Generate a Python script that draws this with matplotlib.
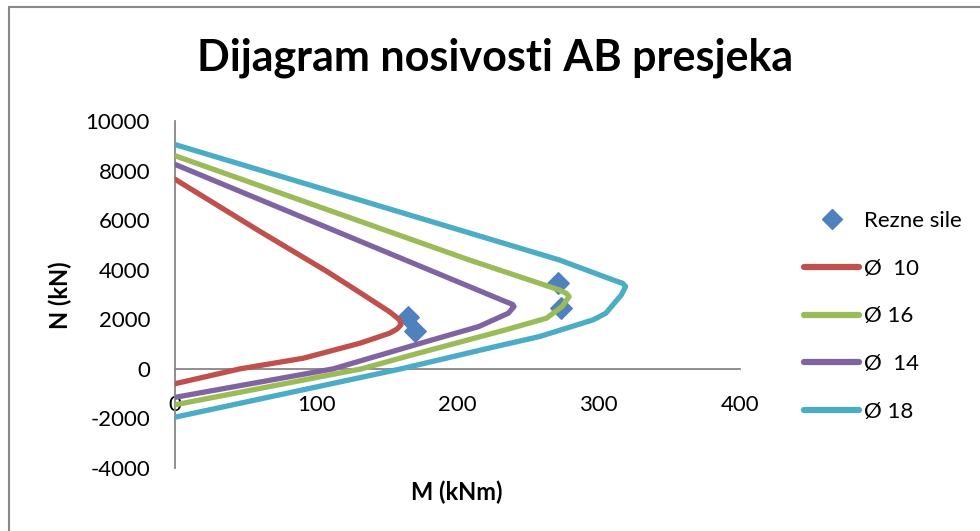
import matplotlib
matplotlib.use("Agg")
import matplotlib.pyplot as plt
from matplotlib.patches import Rectangle
from matplotlib.lines import Line2D

plt.rcParams['font.family'] = ['Lato', 'DejaVu Sans']
plt.rcParams['axes.unicode_minus'] = False

# Rezne sile (design forces)
sile_M = [165, 170, 271, 273]
sile_N = [2110, 1530, 3480, 2470]

# interaction curves (M in kNm, N in kN)
m_10 = [0, 60, 107, 128, 152, 159, 160, 157, 152, 138, 131, 91, 46, 0]
n_10 = [7650, 5550, 3950, 3185, 2300, 1976, 1774, 1600, 1440, 1169, 1036, 431, 0, -600]

m_16 = [0, 208, 272, 277, 279, 274, 263, 234, 168, 132, 0]
n_16 = [8600, 4400, 3185, 3050, 2915, 2513, 2043, 1573, 565, 0, -1450]

m_14 = [0, 234, 239, 240, 236, 215, 178, 112, 0]
n_14 = [8250, 2714, 2600, 2513, 2245, 1706, 1101, 0, -1150]

m_18 = [0, 272, 310, 317, 319, 316, 305, 296, 258, 227, 160, 0]
n_18 = [9050, 4395, 3589, 3450, 3320, 2984, 2245, 1976, 1302, 900, 0, -1950]

labels = ['Rezne sile', 'Ø  10', 'Ø 16', 'Ø  14', 'Ø 18']
colors = ['#C0504D', '#9BBB59', '#8064A2', '#4BACC6']

fig = plt.figure(figsize=(9.8, 5.31), dpi=100)
ax = fig.add_axes([175/980, 1 - 468/531, (740-175)/980, (468-121)/531])

ax.scatter(sile_M, sile_N, marker='D', s=120, color='#4F81BD', zorder=2)
for m, n, c in zip([m_10, m_16, m_14, m_18], [n_10, n_16, n_14, n_18], colors):
    ax.plot(m, n, color=c, lw=3.8, solid_joinstyle='round', solid_capstyle='round', zorder=3)

ax.set_xlim(0, 400)
ax.set_ylim(-4000, 10000)
ax.set_xticks([0, 100, 200, 300, 400])
ax.set_yticks(range(-4000, 10001, 2000))

ax.spines['top'].set_visible(False)
ax.spines['right'].set_visible(False)
ax.spines['bottom'].set_position(('data', 0))
for s in ['left', 'bottom']:
    ax.spines[s].set_color('#868686')
    ax.spines[s].set_linewidth(1.3)
ax.tick_params(axis='both', length=0, labelsize=16)
ax.tick_params(axis='x', pad=19)
ax.tick_params(axis='y', pad=18)

fig.text(495/980, 1 - 58/531, 'Dijagram nosivosti AB presjeka', ha='center', va='center',
         fontsize=31, fontweight='bold')
fig.text(60/980, 1 - 295/531, 'N (kN)', rotation=90, ha='center', va='center',
         fontsize=17, fontweight='bold')
fig.text(457/980, 1 - 492/531, 'M (kNm)', ha='center', va='center',
         fontsize=17, fontweight='bold')

handles = [Line2D([], [], marker='D', ls='none', color='#4F81BD', markersize=10)]
handles += [Line2D([], [], color=c, lw=4.5, solid_capstyle='round') for c in colors]
fig.legend(handles, labels, loc='upper left', bbox_to_anchor=(795/980, 1 - 202/531),
           frameon=False, fontsize=16, handlelength=2.5, handletextpad=0.2,
           labelspacing=1.25, borderaxespad=0)

fig.add_artist(Rectangle((9/980, -0.1), 1.2, 1.1 - 7/531, transform=fig.transFigure,
                         fill=False, edgecolor='#888888', lw=1.5))

fig.savefig('out.png', dpi=100)
